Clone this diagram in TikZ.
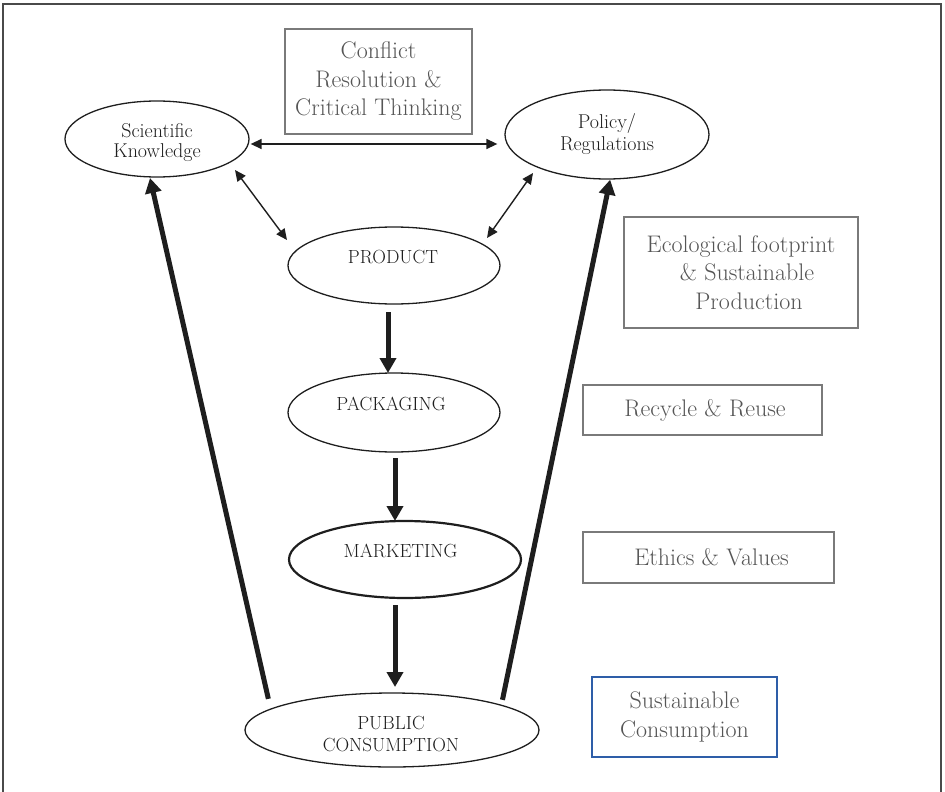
\documentclass[tikz,border=0pt]{standalone}
\usetikzlibrary{shapes.geometric,arrows.meta}
\definecolor{boxgray}{HTML}{7A7A7A}
\definecolor{txtgray}{HTML}{555555}
\definecolor{ink}{HTML}{1E1E1E}
\definecolor{sblue}{HTML}{2E5EA8}
\definecolor{framegray}{HTML}{4A4A4A}
\begin{document}
\begin{tikzpicture}[x=1pt,y=-1pt,
  ell/.style={draw=ink, ellipse, inner sep=0pt, line width=1.3pt},
  etext/.style={text=ink, font=\fontsize{19}{22}\selectfont, align=center, inner sep=0pt},
  ltext/.style={text=ink, font=\fontsize{20}{21}\selectfont, align=center, inner sep=0pt},
  infobox/.style={draw=boxgray, line width=1.2pt, inner sep=0pt, text=txtgray,
    font=\fontsize{24}{28.5}\selectfont, align=center},
  bigarrow/.style={draw=ink, line width=5pt, -{Triangle[length=15pt,width=16pt]}},
  thinarrow/.style={draw=ink, line width=1.4pt, {Triangle[length=11pt,width=10pt]}-{Triangle[length=11pt,width=10pt]}}
]
\useasboundingbox (0,0) rectangle (945,792);
% outer frame (open at the bottom)
\draw[framegray, line width=1.5pt] (3,820) -- (3,4) -- (941,4) -- (941,820);

% ellipses
\node[ell, minimum width=184pt, minimum height=76pt] (sk) at (157,139) {};
\node[ell, minimum width=204pt, minimum height=89pt] (pol) at (607,134.5) {};
\node[ell, minimum width=212pt, minimum height=77pt] (prod) at (394,265.5) {};
\node[ell, minimum width=212pt, minimum height=79pt] (pack) at (394,412.5) {};
\node[ell, line width=2.2pt, minimum width=232pt, minimum height=77pt] (mark) at (405,559.5) {};
\node[ell, minimum width=294pt, minimum height=74pt] (pc) at (392,730) {};

% ellipse texts
\node[ltext, font=\fontsize{20}{20}\selectfont] (skt) at (157,143) {Scientific\\Knowledge};
\node[ltext, font=\fontsize{20}{22}\selectfont] (polt) at (607,134.5) {Policy/\\Regulations};
\node[etext] (prodt) at (393,257) {PRODUCT};
\node[etext] (packt) at (391,404) {PACKAGING};
\node[etext] (markt) at (400.5,551) {MARKETING};
\node[etext] (pct) at (391,734) {PUBLIC\\CONSUMPTION};

% info boxes
\node[infobox, minimum width=187pt, minimum height=105pt] (conf) at (378.5,81.5)
  {Conflict\\Resolution \&\\Critical Thinking};
\node[infobox, minimum width=234pt, minimum height=111pt] (eco) at (741,272.5)
  {Ecological footprint\\\hspace*{12pt}\& Sustainable\\\hspace*{16pt}Production};
\node[infobox, minimum width=239pt, minimum height=50pt] (rec) at (702.5,410)
  {\hspace*{5pt}Recycle \& Reuse};
\node[infobox, minimum width=251pt, minimum height=51pt] (eth) at (708.5,557.5)
  {\hspace*{6pt}Ethics \& Values};
\node[infobox, draw=sblue, line width=1.8pt, minimum width=185pt, minimum height=80pt] (sus) at (684.5,717)
  {Sustainable\\Consumption};

% thin double arrows
\draw[thinarrow] ([shift={(1,5)}]sk.east) -- ([shift={(-7,9.5)}]pol.west);
\draw[thinarrow] ([shift={(78,31)}]sk.center) -- ([shift={(-107,-25.5)}]prod.center);
\draw[thinarrow] ([shift={(-74,38.5)}]pol.center) -- ([shift={(93,-27.5)}]prod.center);

% vertical flow arrows
\draw[bigarrow] ([shift={(-6,46.5)}]prod.center) -- ([shift={(-6,-39.5)}]pack.center);
\draw[bigarrow] ([shift={(1,45.5)}]pack.center) -- ([shift={(-10,-38.5)}]mark.center);
\draw[bigarrow] ([shift={(-10,45.5)}]mark.center) -- ([shift={(3,-43)}]pc.center);

% long feedback arrows
\draw[bigarrow, shorten <=10pt] (pc.170.9) -- ([shift={(-7,39)}]sk.center);
\draw[bigarrow, shorten <=5pt] (pc.13.1) -- (pol.-86);
\end{tikzpicture}
\end{document}
